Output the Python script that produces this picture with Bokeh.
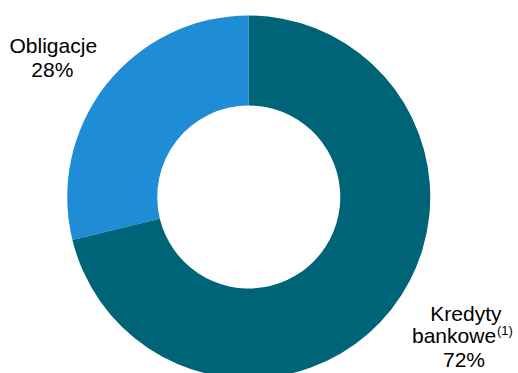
import math
from bokeh.plotting import figure
from bokeh.models import Range1d, ColumnDataSource
from bokeh.core.properties import value
from bokeh.embed import file_html
from bokeh.resources import INLINE

categories = ["Obligacje", "Kredyty bankowe"]
shares = [28.8, 71.2]          # slice sizes as drawn
share_labels = ["28%", "72%"]  # labels as printed
colors = ["#1E8DD5", "#006479"]

W, H = 518, 373
TXT_SHIFT = 8.0  # compensation for text baseline rendering
def px(page_x):
    return page_x
def py(page_y):
    return H - page_y
def ty(page_y):
    return H - page_y + TXT_SHIFT

cx, cy = px(248.25), py(196.5)
r_out, r_in = 181.5, 91.5

total = float(sum(shares))
starts, ends = [], []
acc = 0.0
for v in shares:
    starts.append(math.pi / 2 + 2 * math.pi * acc / total)
    acc += v
    ends.append(math.pi / 2 + 2 * math.pi * acc / total)

src = ColumnDataSource(dict(x=[cx] * len(shares), y=[cy] * len(shares),
                            start=starts, end=ends, color=colors))

p = figure(width=W, height=H, output_backend="svg", toolbar_location=None,
           x_range=Range1d(0, W), y_range=Range1d(0, H),
           x_axis_type=None, y_axis_type=None, min_border=0)
p.grid.visible = False
p.outline_line_color = None
p.background_fill_color = "white"
p.border_fill_color = "white"

p.annular_wedge(x="x", y="y", inner_radius=r_in, outer_radius=r_out,
                start_angle="start", end_angle="end", direction="anticlock",
                fill_color="color", line_color=None, source=src)

font = value("Liberation Sans")
fs = "21px"

p.text(x=[px(52.8), px(51.8)], y=[ty(53.3), ty(76.7)],
       text=[categories[0], share_labels[0]],
       text_font=font, text_font_size=fs, text_color="black",
       text_align="center", text_baseline="alphabetic")

first, second = categories[1].split(" ")
p.text(x=[px(465.4)], y=[ty(320.7)], text=[first],
       text_font=font, text_font_size=fs, text_color="black",
       text_align="center", text_baseline="alphabetic")
p.text(x=[px(411.5)], y=[ty(343.3)], text=[second],
       text_font=font, text_font_size=fs, text_color="black",
       text_align="left", text_baseline="alphabetic")
p.text(x=[px(496.5)], y=[ty(337.5)], text=["(1)"],
       text_font=font, text_font_size="13px", text_color="black",
       text_align="left", text_baseline="alphabetic")
p.text(x=[px(463.5)], y=[ty(366.7)], text=[share_labels[1]],
       text_font=font, text_font_size=fs, text_color="black",
       text_align="center", text_baseline="alphabetic")

open("out.html", "w").write(file_html(p, INLINE))
